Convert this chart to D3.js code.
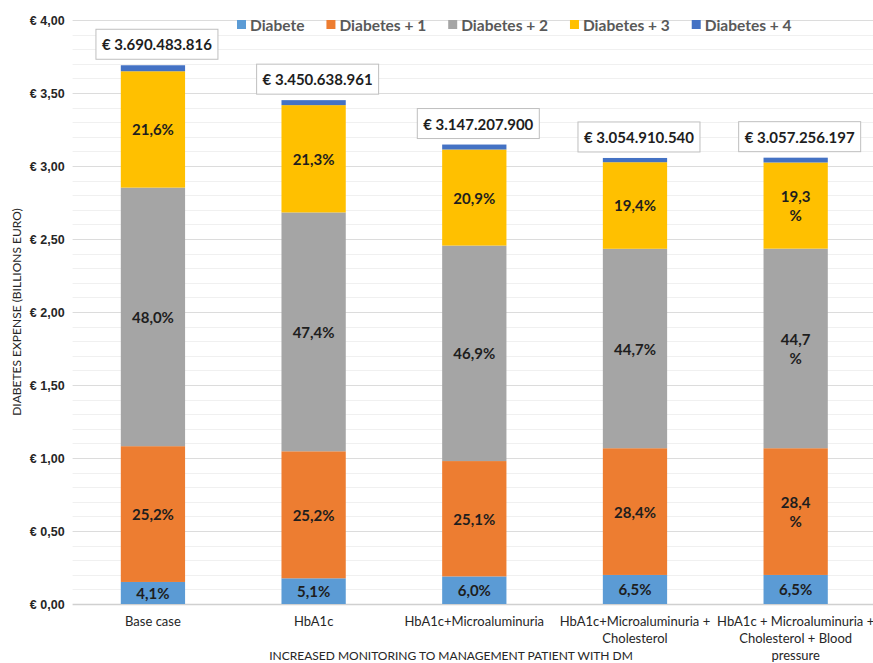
<!DOCTYPE html>
<html>
<head>
<meta charset="utf-8">
<script src="https://cdn.jsdelivr.net/npm/d3@7"></script>
<style>
  body { margin: 0; background: #fff; }
  svg { font-family: Lato, "Open Sans", sans-serif; }
</style>
</head>
<body>
<div id="chart"></div>
<script>
// Diabetes expense by monitoring scenario (billions euro)

const categories = [
  ["Base case"],
  ["HbA1c"],
  ["HbA1c+Microaluminuria"],
  ["HbA1c+Microaluminuria +", "Cholesterol"],
  ["HbA1c + Microaluminuria +", "Cholesterol + Blood", "pressure"]
]
const seriesNames = ["Diabete", "Diabetes + 1", "Diabetes + 2", "Diabetes + 3", "Diabetes + 4"]

const diabete   = [0.151, 0.176, 0.189, 0.199, 0.199]
const diabetes1 = [0.930, 0.870, 0.790, 0.868, 0.868]
const diabetes2 = [1.771, 1.636, 1.476, 1.366, 1.367]
const diabetes3 = [0.797, 0.735, 0.658, 0.593, 0.590]
const diabetes4 = [0.041, 0.034, 0.034, 0.029, 0.033]

const labelsDiabete   = ["4,1%", "5,1%", "6,0%", "6,5%", "6,5%"]
const labelsDiabetes1 = ["25,2%", "25,2%", "25,1%", "28,4%", "28,4\n%"]
const labelsDiabetes2 = ["48,0%", "47,4%", "46,9%", "44,7%", "44,7\n%"]
const labelsDiabetes3 = ["21,6%", "21,3%", "20,9%", "19,4%", "19,3\n%"]

const totalLabels = ["€ 3.690.483.816", "€ 3.450.638.961", "€ 3.147.207.900", "€ 3.054.910.540", "€ 3.057.256.197"]

const yTicks = [0, 0.5, 1, 1.5, 2, 2.5, 3, 3.5, 4]

const colors = ["#5b9bd5", "#ed7d31", "#a5a5a5", "#ffc000", "#4472c4"]

const seriesValues = [diabete, diabetes1, diabetes2, diabetes3, diabetes4]
const seriesLabels = [labelsDiabete, labelsDiabetes1, labelsDiabetes2, labelsDiabetes3, null]

const width = 873, height = 663
const margin = {top: 20, right: -3, bottom: 59, left: 72.6}

const svg = d3.select("#chart").append("svg")
    .attr("width", width)
    .attr("height", height)

const rows = categories.map((c, i) => {
    let r = {idx: i}
    seriesNames.forEach((s, j) => { r[s] = seriesValues[j][i] })
    return r
})

const stacked = d3.stack().keys(seriesNames)(rows)

const x = d3.scaleBand()
    .domain(d3.range(categories.length))
    .range([margin.left, width - margin.right])
    .paddingInner(0.6)
    .paddingOuter(0.3)

const y = d3.scaleLinear()
    .domain([0, 4])
    .range([height - margin.bottom, margin.top])

// gridlines
svg.append("g")
    .selectAll("line")
    .data(d3.range(0, 41).map(d => d / 10).filter(d => Math.round(d * 10) % 5 !== 0))
    .enter().append("line")
    .attr("x1", margin.left).attr("x2", width)
    .attr("y1", d => Math.round(y(d)) + 0.5).attr("y2", d => Math.round(y(d)) + 0.5)
    .attr("stroke", "#f0f0f0")

svg.append("g")
    .selectAll("line")
    .data(yTicks)
    .enter().append("line")
    .attr("x1", margin.left).attr("x2", width)
    .attr("y1", d => Math.round(y(d)) + 0.5).attr("y2", d => Math.round(y(d)) + 0.5)
    .attr("stroke", d => d === 0 ? "#d0d0d0" : "#dcdcdc")
    .attr("stroke-width", d => d === 0 ? 1.5 : 1)

// y axis labels
const yAxis = svg.append("g")
    .attr("transform", `translate(${margin.left}, 0)`)
    .call(d3.axisLeft(y).tickValues(yTicks).tickSize(0).tickPadding(8)
        .tickFormat(d => "€ " + d3.format(".2f")(d).replace(".", ",")))
yAxis.select(".domain").remove()
yAxis.selectAll("text")
    .style("font-size", "12.5px")
    .style("font-weight", "bold")
    .style("fill", "#262626")

// bars
const layer = svg.selectAll("g.layer")
    .data(stacked)
    .enter().append("g")
    .attr("class", "layer")
    .attr("fill", (d, i) => colors[i])

layer.selectAll("rect")
    .data(d => d)
    .enter().append("rect")
    .attr("x", (d, i) => x(i))
    .attr("width", x.bandwidth())
    .attr("y", d => y(d[1]))
    .attr("height", d => y(d[0]) - y(d[1]))

// segment labels
stacked.forEach((s, j) => {
    if (!seriesLabels[j]) return
    s.forEach((d, i) => {
        let lines = seriesLabels[j][i].split("\n")
        let cy = (y(d[0]) + y(d[1])) / 2
        let t = svg.append("text")
            .attr("x", x(i) + x.bandwidth() / 2)
            .attr("y", cy - (lines.length - 1) * 9.5)
            .attr("text-anchor", "middle")
            .attr("dominant-baseline", "central")
            .style("font-size", "15px")
            .style("font-weight", "bold")
            .style("fill", "#1e1e1e")
        lines.forEach((l, k) => {
            t.append("tspan")
                .attr("x", x(i) + x.bandwidth() / 2)
                .attr("dy", k === 0 ? 0 : 19)
                .text(l)
        })
    })
})

// total boxes
const topLayer = stacked[stacked.length - 1]
topLayer.forEach((d, i) => {
    let cx = x(i) + x.bandwidth() / 2 + 4
    let by = y(d[1]) - 6
    let g = svg.append("g")
    g.append("rect")
        .attr("x", cx - 61).attr("y", by - 30)
        .attr("width", 122).attr("height", 30)
        .attr("fill", "#fff")
        .attr("stroke", "#bfbfbf")
    g.append("text")
        .attr("x", cx).attr("y", by - 15)
        .attr("text-anchor", "middle")
        .attr("dominant-baseline", "central")
        .style("font-size", "15px")
        .style("font-weight", "bold")
        .style("fill", "#1e1e1e")
        .text(totalLabels[i])
})

// x labels
categories.forEach((lines, i) => {
    let t = svg.append("text")
        .attr("text-anchor", "middle")
        .style("font-size", "13px")
        .style("fill", "#262626")
    lines.forEach((l, k) => {
        t.append("tspan")
            .attr("x", x(i) + x.bandwidth() / 2)
            .attr("y", 626 + k * 17)
            .text(l)
    })
})

// axis titles
svg.append("text")
    .attr("x", 451).attr("y", 660)
    .attr("text-anchor", "middle")
    .style("font-size", "12px")
    .style("fill", "#262626")
    .text("INCREASED MONITORING TO MANAGEMENT PATIENT WITH DM")

svg.append("text")
    .attr("transform", "translate(21, 312) rotate(-90)")
    .attr("text-anchor", "middle")
    .style("font-size", "12px")
    .style("fill", "#262626")
    .text("DIABETES EXPENSE (BILLIONS  EURO)")

// legend
const legend = svg.append("g")
let lx = 237
seriesNames.forEach((s, i) => {
    legend.append("rect")
        .attr("x", lx).attr("y", 20)
        .attr("width", 9).attr("height", 9)
        .attr("fill", colors[i])
    let t = legend.append("text")
        .attr("x", lx + 13).attr("y", 25)
        .attr("dominant-baseline", "central")
        .style("font-size", "15.5px")
        .style("font-weight", "bold")
        .style("fill", "#595959")
        .text(s)
    lx += 13 + t.node().getComputedTextLength() + 22
})
</script>
</body>
</html>
